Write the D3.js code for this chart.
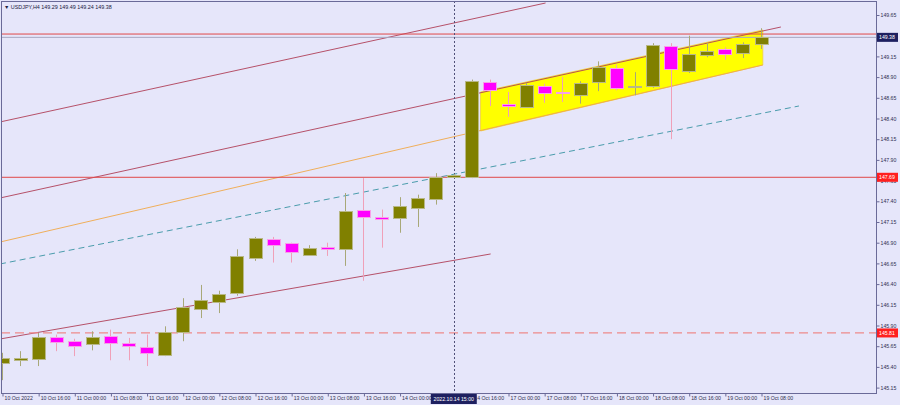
<!DOCTYPE html>
<html><head><meta charset="utf-8">
<script src="https://cdn.jsdelivr.net/npm/d3@7"></script>
<style>
html,body{margin:0;padding:0;background:#e6e6fa;}
svg{display:block;font-family:"Liberation Sans",Arial,sans-serif;}
</style></head>
<body>
<svg id="c" width="900" height="405"></svg>
<script>
const symbol = "USDJPY,H4";
const candleTimes = ["10 Oct 08:00","10 Oct 12:00","10 Oct 16:00","10 Oct 20:00",
 "11 Oct 00:00","11 Oct 04:00","11 Oct 08:00","11 Oct 12:00","11 Oct 16:00","11 Oct 20:00",
 "12 Oct 00:00","12 Oct 04:00","12 Oct 08:00","12 Oct 12:00","12 Oct 16:00","12 Oct 20:00",
 "13 Oct 00:00","13 Oct 04:00","13 Oct 08:00","13 Oct 12:00","13 Oct 16:00","13 Oct 20:00",
 "14 Oct 00:00","14 Oct 04:00","14 Oct 08:00","14 Oct 12:00","14 Oct 16:00","14 Oct 20:00",
 "17 Oct 00:00","17 Oct 04:00","17 Oct 08:00","17 Oct 12:00","17 Oct 16:00","17 Oct 20:00",
 "18 Oct 00:00","18 Oct 04:00","18 Oct 08:00","18 Oct 12:00","18 Oct 16:00","18 Oct 20:00",
 "19 Oct 00:00","19 Oct 04:00","19 Oct 08:00"];
const opens  = [145.45,145.48,145.50,145.76,145.71,145.67,145.77,145.69,145.64,145.54,145.82,146.10,146.18,146.29,146.72,146.95,146.90,146.76,146.85,146.82,147.30,147.21,147.19,147.32,147.43,147.69,147.69,148.84,148.58,148.55,148.79,148.72,148.68,148.84,149.01,148.78,148.79,149.28,148.97,149.17,149.24,149.19,149.29];
const highs  = [145.57,145.59,145.81,145.79,145.74,145.83,145.85,145.75,145.79,145.89,146.23,146.39,146.32,146.82,146.97,146.97,146.90,146.87,146.90,147.50,147.68,147.30,147.45,147.48,147.74,147.73,148.87,148.87,148.72,148.83,148.82,148.90,148.85,149.09,149.05,148.96,149.31,149.31,149.40,149.31,149.26,149.32,149.49];
const lows   = [145.24,145.41,145.41,145.59,145.53,145.60,145.48,145.48,145.41,145.53,145.71,145.99,146.05,146.26,146.68,146.66,146.66,146.75,146.74,146.62,146.44,146.84,147.02,147.09,147.36,147.68,147.68,148.55,148.42,148.54,148.59,148.60,148.58,148.73,148.74,148.68,148.77,148.15,148.95,149.14,149.11,149.13,149.24];
const closes = [145.51,145.51,145.76,145.70,145.65,145.76,145.68,145.65,145.57,145.82,146.12,146.21,146.28,146.74,146.96,146.88,146.79,146.84,146.82,147.28,147.21,147.19,147.34,147.44,147.69,147.72,148.85,148.74,148.56,148.81,148.71,148.71,148.83,149.02,148.77,148.79,149.29,149.00,149.18,149.22,149.18,149.30,149.38];

const yTicks = [145.15,145.40,145.65,145.90,146.15,146.40,146.65,146.90,147.15,147.40,147.65,147.90,148.15,148.40,148.65,148.90,149.15,149.40,149.65];
const xTickIdx = [0,2,4,6,8,10,12,14,16,18,20,22,24,26,28,30,32,34,36,38,40,42];
// "14 Oct 08:00" (idx 24) is hidden behind the time-marker box in the reference
const xTickLabels = ["10 Oct 2022","10 Oct 16:00","11 Oct 00:00","11 Oct 08:00","11 Oct 16:00","12 Oct 00:00","12 Oct 08:00","12 Oct 16:00","13 Oct 00:00","13 Oct 08:00","13 Oct 16:00","14 Oct 00:00","","14 Oct 16:00","17 Oct 00:00","17 Oct 08:00","17 Oct 16:00","18 Oct 00:00","18 Oct 08:00","18 Oct 16:00","19 Oct 00:00","19 Oct 08:00"];

// horizontal levels
const hLevels = [149.42, 147.69];
const dashedLevel = 145.81;
const bidPrice = 149.38;
// vertical marker
const markerIdx = 25;
const markerLabel = "2022.10.14 15:00";
// trendlines: [idx1, price1, idx2, price2]
const maroonLines = [[-0.11,148.358,30.08,149.795],[-0.11,147.44,43.1,149.505],[-0.11,145.737,27.04,146.764]];
const orangeLine = [-0.11,146.908,42.1,149.046];
const tealLine = [-0.11,146.643,44.1,148.551];
const channelIdx = [26.48,42.1,42.1,26.48];
const channelPrice = [148.720,149.469,149.046,148.249];

const W=900,H=405;
const L=1,R=876,T=1,B=393;
const svg=d3.select("#c");
const x=d3.scaleLinear().domain([0,42]).range([2,761]);
const y=d3.scaleLinear().domain([145.15,149.65]).range([387.6,15]);

svg.append("rect").attr("width",W).attr("height",H).attr("fill","#e6e6fa");
svg.append("defs").append("clipPath").attr("id","pc").append("rect")
  .attr("x",L).attr("y",T).attr("width",R-L).attr("height",B-T);
const g=svg.append("g").attr("clip-path","url(#pc)");

// yellow channel
g.append("polygon")
  .attr("points",channelIdx.map((d,i)=>x(d)+","+y(channelPrice[i])).join(" "))
  .attr("fill","#ffff00").attr("stroke","#f0d040").attr("stroke-width",0.8);

const seg=(a,col,w,dash)=>g.append("line")
  .attr("x1",x(a[0])).attr("y1",y(a[1])).attr("x2",x(a[2])).attr("y2",y(a[3]))
  .attr("stroke",col).attr("stroke-width",w).attr("stroke-dasharray",dash||null);
maroonLines.forEach(a=>seg(a,"#b04058",0.9));
seg(orangeLine,"#f0a848",0.9);
seg(tealLine,"#4a9cac",1,"6,4");

// horizontal lines
g.append("line").attr("x1",L).attr("x2",R).attr("y1",y(bidPrice)).attr("y2",y(bidPrice))
  .attr("stroke","#a8a8c0").attr("stroke-width",1);
hLevels.forEach(p=>g.append("line").attr("x1",L).attr("x2",R).attr("y1",y(p)).attr("y2",y(p))
  .attr("stroke","#e04848").attr("stroke-width",1));
g.append("line").attr("x1",L).attr("x2",R).attr("y1",y(dashedLevel)).attr("y2",y(dashedLevel))
  .attr("stroke","#ee8a8a").attr("stroke-width",1.3).attr("stroke-dasharray","9,5");

// vertical marker
g.append("line").attr("x1",Math.round(x(markerIdx))+0.5).attr("x2",Math.round(x(markerIdx))+0.5)
  .attr("y1",T).attr("y2",B).attr("stroke","#505078").attr("stroke-width",1).attr("stroke-dasharray","2,2");

// candles
const bw=13;
const idx=d3.range(opens.length);
g.selectAll("line.wick").data(idx).join("line").attr("class","wick")
  .attr("x1",i=>Math.round(x(i))+0.5).attr("x2",i=>Math.round(x(i))+0.5)
  .attr("y1",i=>y(highs[i])).attr("y2",i=>y(lows[i]))
  .attr("stroke",i=>closes[i]>=opens[i]?"#a8a878":"#f0a0b8").attr("stroke-width",1);
g.selectAll("rect.body").data(idx).join("rect").attr("class","body")
  .attr("x",i=>Math.round(x(i)-bw/2)+0.5)
  .attr("y",i=>Math.round(y(Math.max(opens[i],closes[i])))+0.5)
  .attr("width",bw)
  .attr("height",i=>Math.max(1,Math.round(Math.abs(y(opens[i])-y(closes[i])))))
  .attr("fill",i=>closes[i]>=opens[i]?"#808000":"#ff00ff")
  .attr("stroke",i=>closes[i]>=opens[i]?"#b8b888":"#f8a0e8").attr("stroke-width",1);

// frame
svg.append("rect").attr("x",L+0.5).attr("y",T+0.5).attr("width",R-L).attr("height",B-T)
  .attr("fill","none").attr("stroke","#6a6a98").attr("stroke-width",1);

// y axis
const ya=svg.append("g").attr("transform",`translate(${R+0.5},0)`)
  .call(d3.axisRight(y).tickValues(yTicks).tickSize(3).tickFormat(d3.format(".2f")));
ya.select(".domain").remove();
ya.selectAll("line").attr("stroke","#6a6a98");
ya.selectAll("text").attr("font-size",5.2).attr("fill","#303050").attr("x",4);

// x axis
const xa=svg.append("g").attr("transform",`translate(0,${B+0.5})`)
  .call(d3.axisBottom(x).tickValues(xTickIdx).tickSize(3).tickFormat((d,i)=>xTickLabels[i]));
xa.select(".domain").remove();
xa.selectAll("line").attr("stroke","#6a6a98").attr("transform","translate(0.5,0)");
xa.selectAll("text").attr("font-size",5.2).attr("fill","#303050")
  .attr("text-anchor","start").attr("dx",2).attr("y",3).attr("dy","0.71em");

// price label boxes
function priceBox(p,bg){
  const yy=y(p);
  svg.append("rect").attr("x",R+1).attr("y",yy-4.5).attr("width",21).attr("height",9).attr("fill",bg);
  svg.append("text").attr("x",R+3).attr("y",yy+2).attr("font-size",5.2).attr("fill","#fff").text(d3.format(".2f")(p));
}
priceBox(bidPrice,"#1e2060");
priceBox(hLevels[1],"#ff2020");
priceBox(dashedLevel,"#ff2020");

// time marker label
const mx=x(markerIdx);
svg.append("rect").attr("x",mx-23).attr("y",B+1).attr("width",46).attr("height",10).attr("fill","#1e2060");
svg.append("text").attr("x",mx).attr("y",B+8).attr("text-anchor","middle").attr("font-size",5.2).attr("fill","#fff").text(markerLabel);

// title
const last=opens.length-1;
svg.append("text").attr("x",4).attr("y",8.5).attr("font-size",5.4).attr("fill","#202040")
  .text("▼ "+symbol+"  "+[opens[last],highs[last],lows[last],closes[last]].map(d3.format(".2f")).join(" "));
</script>
</body></html>
